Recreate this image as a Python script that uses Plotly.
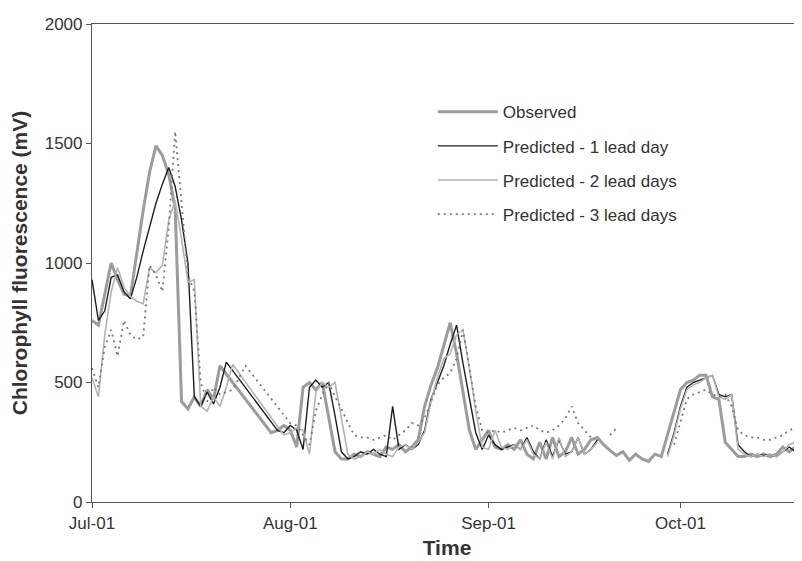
import datetime as dt
import plotly.graph_objects as go

START = dt.date(2001, 7, 1)

# ---- Observed (day offset from Jul-01, value in mV)
obs_day = [0, 1, 2, 3, 4, 5, 6, 7, 8, 9, 10, 11, 12, 13, 14, 15, 16, 17, 18, 19, 20,
           28, 29, 30, 31, 32, 33, 34, 35, 36, 37, 38, 39, 40, 41, 42, 43, 44, 45, 46,
           47, 48, 49, 50, 51, 52, 53, 54, 55, 56, 57, 58, 59, 60, 61, 62, 63, 64, 65,
           66, 67, 68, 69, 70, 71, 72, 73, 74, 75, 76, 77, 78, 79, 80, 81, 82, 83, 84,
           85, 86, 87, 88, 89, 90, 91, 92, 93, 94, 95, 96, 97, 98, 99, 100, 101, 102,
           103, 104, 105, 106, 107, 108, 109, 110, 111]
obs_val = [760, 740, 870, 1000, 930, 870, 860, 1050, 1220, 1380, 1490, 1450, 1370, 1230, 420,
           390, 440, 400, 470, 430, 570,
           290, 300, 320, 300, 230, 480, 500, 470, 500, 350, 210, 180, 180, 200, 190, 210,
           200, 190, 230, 220, 240, 210, 230, 260, 400, 490, 560, 650, 750, 620, 460, 300,
           220, 260, 300, 230, 220, 240, 220, 260, 200, 180, 250, 180, 270, 190, 210, 270,
           200, 220, 260, 270, 240, 215, 195, 210, 175, 200, 180, 170, 200, 190, 280, 380,
           470, 500, 510, 530, 530, 440, 430, 250, 220, 190, 190, 200, 190, 200, 190, 200,
           230, 210, 230, 220]

# ---- Predicted - 1 lead day (None = no prediction, line breaks)
p1_day = [0, 1, 2, 3, 4, 5, 6, 7, 8, 9, 10, 11, 12, 13, 14, 15, 16, 17, 18, 19, 20, 21,
          29, 30, 31, 32, 33, 34, 35, 36, 37, 38, 39, 40, 41, 42, 43, 44, 45, 46, 47, 48,
          49, 50, 51, 52, 53, 54, 55, 56, 57, 58, 59, 60, 61, 62, 63, 64, 65, 66, 67, 68,
          69, 70, 71, 72, 73, 74, 75, 76, 77, 78, 79, 80,
          90, 91, 92, 93, 94, 95, 96, 97, 98, 99, 100, 101, 102, 103, 104, 105, 106, 107,
          108, 109, 110, 111]
p1_val = [930, 760, 800, 940, 950, 880, 850, 940, 1050, 1150, 1250, 1330, 1400, 1320, 1180,
          1000, 440, 400, 460, 410, 480, 585,
          300, 290, 320, 300, 220, 480, 510, 480, 500, 360, 210, 180, 190, 210, 200, 220,
          200, 190, 400, 220, 240, 220, 240, 300, 430, 500, 570, 660, 740, 580, 430, 290,
          220, 280, 240, 220, 230, 240, 220, 270, 210, 180, 260, 190, 260, 200, 210, 270,
          200, 220, 260, None,
          200, 290, 400, 480, 500, 510, 520, 530, 450, 440, 450, 240, 210, 190, 200, 195,
          200, 190, 210, 230, 210, 230]

# ---- Predicted - 2 lead days
p2_day = [0, 1, 2, 3, 4, 5, 6, 7, 8, 9, 10, 11, 12, 13, 14, 15, 16, 17, 18, 19, 20, 21,
          22, 30, 31, 32, 33, 34, 35, 36, 37, 38, 39, 40, 41, 42, 43, 44, 45, 46, 47, 48,
          49, 50, 51, 52, 53, 54, 55, 56, 57, 58, 59, 60, 61, 62, 63, 64, 65, 66, 67, 68,
          69, 70, 71, 72, 73, 74, 75, 76, 77, 78, 79, 80,
          90, 91, 92, 93, 94, 95, 96, 97, 98, 99, 100, 101, 102, 103, 104, 105, 106, 107,
          108, 109, 110, 111]
p2_val = [520, 440, 700, 880, 980, 900, 860, 840, 830, 980, 960, 990, 1180, 1260, 1100, 920,
          930, 400, 380, 440, 400, 480, 575,
          280, 290, 310, 300, 200, 460, 500, 480, 500, 350, 200, 180, 190, 210, 200, 220,
          200, 190, 230, 240, 220, 250, 290, 420, 520, 600, 620, 700, 720, 560, 380, 230,
          220, 300, 230, 220, 240, 220, 260, 200, 180, 250, 180, 270, 190, 210, 270, 200,
          220, 250, None,
          190, 280, 390, 470, 490, 500, 520, 530, 440, 430, 450, 220, 200, 190, 200, 190,
          200, 190, 210, 240, 250, 240]

# ---- Predicted - 3 lead days
p3_day = [0, 1, 2, 3, 4, 5, 6, 7, 8, 9, 10, 11, 12, 13, 14, 15, 16, 17, 18, 19, 20, 21,
          22, 24, 31, 32, 33, 34, 35, 36, 37, 38, 39, 40, 41, 42, 43, 44, 45, 46, 47, 48,
          49, 50, 51, 52, 53, 54, 55, 56, 57, 58, 59, 60, 61, 62, 63, 64, 65, 66, 67, 68,
          69, 70, 71, 72, 73, 74, 75, 76, 77, 78, 79, 81, 82, 83,
          91, 92, 93, 94, 95, 96, 97, 98, 99, 100, 101, 102, 103, 104, 105, 106, 107, 108,
          109, 110, 111]
p3_val = [560, 480, 650, 720, 610, 760, 700, 680, 690, 990, 950, 880, 1150, 1550, 1250, 950,
          880, 500, 420, 480, 450, 460, 470, 570,
          330, 320, 280, 240, 380, 450, 500, 440, 390, 330, 280, 270, 270, 260, 270, 280,
          260, 280, 300, 330, 320, 350, 420, 490, 520, 540, 600, 720, 560, 400, 300, 290,
          300, 290, 300, 310, 300, 310, 320, 300, 290, 300, 320, 350, 400, 330, 300, 270,
          None, 280, 310, None,
          240, 340, 430, 450, 460, 470, 450, 440, 450, 400, 300, 280, 270, 270, 260, 260,
          270, 280, 300, 310, 300]

# ---- axis settings
Y_TICKS = [0, 500, 1000, 1500, 2000]
X_TICKS = ["2001-07-01", "2001-08-01", "2001-09-01", "2001-10-01"]
X_RANGE = ["2001-07-01", "2001-10-20"]


def to_dates(days):
    return [START + dt.timedelta(days=d) for d in days]


FONT = "Liberation Sans, Arial, Helvetica, sans-serif"

fig = go.Figure()
fig.add_trace(go.Scatter(x=to_dates(obs_day), y=obs_val, mode="lines", name="Observed",
                         line=dict(color="#9c9c9c", width=3), legendgroup="a"))
fig.add_trace(go.Scatter(x=to_dates(p1_day), y=p1_val, mode="lines",
                         name="Predicted - 1 lead day",
                         line=dict(color="#1e1e1e", width=1.4), legendgroup="b"))
fig.add_trace(go.Scatter(x=to_dates(p2_day), y=p2_val, mode="lines",
                         name="Predicted - 2 lead days",
                         line=dict(color="#b4b4b4", width=1.6), legendgroup="c"))
fig.add_trace(go.Scatter(x=to_dates(p3_day), y=p3_val, mode="lines",
                         name="Predicted - 3 lead days",
                         line=dict(color="#7a7a7a", width=1.8, dash="2px,4px"),
                         legendgroup="d"))

# page body adds an 8px offset, so the figure is 8px smaller than the window
fig.update_layout(
    width=794, height=553,
    margin=dict(l=84, r=0, t=16, b=59),
    paper_bgcolor="white", plot_bgcolor="white",
    font=dict(family=FONT, size=17, color="#333333"),
    showlegend=True,
    legend=dict(x=0.48, y=0.853, xanchor="left", yanchor="top",
                bgcolor="rgba(0,0,0,0)", font=dict(size=17, color="#333333"),
                tracegroupgap=9, itemwidth=60),
    xaxis=dict(
        type="date", range=X_RANGE, tickvals=X_TICKS, tickformat="%b-%y",
        showgrid=False, zeroline=False, showline=True, linecolor="#555555",
        linewidth=1.2, mirror=True, ticks="outside", ticklen=5, tickcolor="#555555",
        title=dict(text="<b>Time</b>", font=dict(size=21, color="#333333"), standoff=8),
    ),
    yaxis=dict(
        range=[0, 2000], tickvals=Y_TICKS, showgrid=False, zeroline=False,
        showline=True, linecolor="#555555", linewidth=1.2, ticks="outside",
        ticklen=5, tickcolor="#555555",
        title=dict(text="<b>Chlorophyll fluorescence (mV)</b>",
                   font=dict(size=21, color="#333333"), standoff=12),
    ),
)

fig.write_html("out.html")
